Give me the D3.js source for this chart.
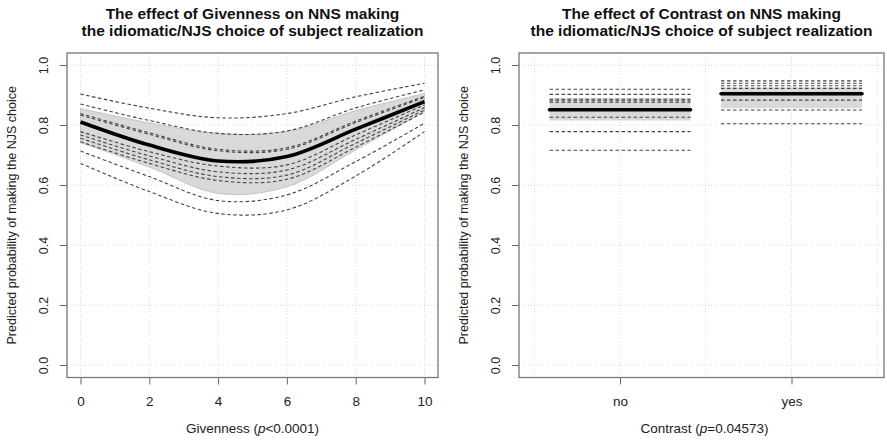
<!DOCTYPE html>
<html><head><meta charset="utf-8">
<script src="https://cdn.jsdelivr.net/npm/d3@7"></script>
<style>
body{margin:0;background:#fff;}
svg{display:block;font-family:"Liberation Sans",Arial,Helvetica,sans-serif;}
</style></head>
<body><svg id="c" width="887" height="440"></svg>
<script>
// ---- data ----
const givX = [0, 2, 4, 6, 8, 10];
const givFit = [0.810, 0.733, 0.680, 0.695, 0.786, 0.878];
const givUpper = [0.855, 0.807, 0.772, 0.778, 0.848, 0.905];
const givLower = [0.742, 0.660, 0.572, 0.594, 0.717, 0.845];
const givRandom = [
  [0.903, 0.856, 0.824, 0.838, 0.894, 0.939],
  [0.870, 0.815, 0.772, 0.780, 0.857, 0.917],
  [0.838, 0.774, 0.719, 0.724, 0.813, 0.896],
  [0.833, 0.769, 0.714, 0.719, 0.808, 0.892],
  [0.778, 0.711, 0.663, 0.667, 0.767, 0.867],
  [0.767, 0.697, 0.644, 0.650, 0.752, 0.858],
  [0.756, 0.684, 0.628, 0.633, 0.739, 0.850],
  [0.744, 0.672, 0.615, 0.619, 0.726, 0.843],
  [0.713, 0.628, 0.548, 0.567, 0.678, 0.806],
  [0.672, 0.578, 0.505, 0.517, 0.630, 0.778]
];
const givTicks = [0, 2, 4, 6, 8, 10];

const conCats = ["no", "yes"];
const conFit = [0.851, 0.904];
const conLower = [0.815, 0.856];
const conUpper = [0.890, 0.925];
const conRandomNo = [0.919, 0.902, 0.886, 0.881, 0.876, 0.826, 0.778, 0.716];
const conRandomYes = [0.947, 0.939, 0.931, 0.922, 0.883, 0.850, 0.804];

const yTicks = [0, 0.2, 0.4, 0.6, 0.8, 1.0];
const titlesLeft = ["The effect of Givenness on NNS making", "the idiomatic/NJS choice of subject realization"];
const titlesRight = ["The effect of Contrast on NNS making", "the idiomatic/NJS choice of subject realization"];
const yTitle = "Predicted probability of making the NJS choice";

// ---- drawing ----
const svg = d3.select("#c");
const FONT_T = 15.5, FONT_X = 13.5, FONT_Y = 12.5;
const boxTop = 53, boxBot = 377.5;
const y = d3.scaleLinear().domain([0, 1]).range([365, 65]);

function frame(x0, x1, xs, xGrid, titles) {
  const g = svg.append("g");
  g.selectAll(".hg").data(yTicks).join("line")
    .attr("x1", x0).attr("x2", x1).attr("y1", d => y(d)).attr("y2", d => y(d))
    .attr("stroke", "#d9d9d9").attr("stroke-width", 1).attr("stroke-dasharray", "1,2");
  g.selectAll(".vg").data(xGrid).join("line")
    .attr("x1", d => xs(d)).attr("x2", d => xs(d)).attr("y1", boxTop).attr("y2", boxBot)
    .attr("stroke", "#d9d9d9").attr("stroke-width", 1).attr("stroke-dasharray", "1,2");
  const ya = d3.axisLeft(y).tickValues(yTicks).tickFormat(d3.format(".1f")).tickSize(7).tickPadding(4);
  const yg = svg.append("g").attr("transform", `translate(${x0},0)`).call(ya);
  yg.select(".domain").remove();
  yg.selectAll(".tick line").attr("stroke", "#666");
  yg.selectAll(".tick text").attr("font-size", FONT_Y).attr("fill", "#222")
    .attr("font-family", "Liberation Sans, Arial, sans-serif")
    .attr("text-anchor", "middle").attr("dy", null)
    .attr("transform", "rotate(-90)").attr("x", 0).attr("y", -19);
  const cx = (x0 + x1) / 2;
  svg.append("text").attr("x", cx).attr("y", 18.5).attr("text-anchor", "middle")
    .attr("font-weight", "bold").attr("font-size", FONT_T).attr("fill", "#111").text(titles[0]);
  svg.append("text").attr("x", cx).attr("y", 35.5).attr("text-anchor", "middle")
    .attr("font-weight", "bold").attr("font-size", FONT_T).attr("fill", "#111").text(titles[1]);
  svg.append("text").attr("transform", `translate(${x0 - 51},${(boxTop + boxBot) / 2}) rotate(-90)`)
    .attr("text-anchor", "middle").attr("font-size", FONT_Y).attr("fill", "#222").text(yTitle);
  return g;
}

function box(x0, x1) {
  svg.append("rect").attr("x", x0).attr("y", boxTop).attr("width", x1 - x0).attr("height", boxBot - boxTop)
    .attr("fill", "none").attr("stroke", "#777").attr("stroke-width", 1.3);
}

// Left panel
const L0 = 67, L1 = 438;
const xg = d3.scaleLinear().domain([0, 10]).range([80.5, 424.5]);
const gl = frame(L0, L1, xg, givTicks, titlesLeft);
const area = d3.area().x((d, i) => xg(givX[i])).y0((d, i) => y(givLower[i])).y1(d => y(d)).curve(d3.curveCatmullRom);
gl.append("path").attr("d", area(givUpper)).attr("fill", "#d9d9d9").attr("stroke", "#bbb").attr("stroke-width", 0.8);
const line = d3.line().x((d, i) => xg(givX[i])).y(d => y(d)).curve(d3.curveCatmullRom);
givRandom.forEach(r => {
  gl.append("path").attr("d", line(r)).attr("fill", "none").attr("stroke", "#444")
    .attr("stroke-width", 1.1).attr("stroke-dasharray", "3.5,2.5");
});
gl.append("path").attr("d", line(givFit)).attr("fill", "none").attr("stroke", "#000").attr("stroke-width", 3.6);
const xa = d3.axisBottom(xg).tickValues(givTicks).tickSize(7).tickPadding(12);
const xgA = svg.append("g").attr("transform", `translate(0,${boxBot})`).call(xa);
xgA.select(".domain").remove();
xgA.selectAll(".tick line").attr("stroke", "#666");
xgA.selectAll(".tick text").attr("font-size", FONT_X).attr("fill", "#222").attr("font-family", "Liberation Sans, Arial, sans-serif");
const xtl = svg.append("text").attr("x", (L0 + L1) / 2).attr("y", 433).attr("text-anchor", "middle")
  .attr("font-size", FONT_X).attr("fill", "#222");
xtl.append("tspan").text("Givenness (");
xtl.append("tspan").attr("font-style", "italic").text("p");
xtl.append("tspan").text("<0.0001)");
box(L0, L1);

// Right panel
const R0 = 519, R1 = 884;
const xc = d3.scaleLinear().domain([1, 2]).range([620, 791.5]);
const gr = frame(R0, R1, xc, [0.5, 1, 1.5, 2, 2.5], titlesRight);
const half = 0.411;
conCats.forEach((c, i) => {
  const a = xc(i + 1 - half), b = xc(i + 1 + half);
  gr.append("rect").attr("x", a).attr("width", b - a)
    .attr("y", y(conUpper[i])).attr("height", y(conLower[i]) - y(conUpper[i]))
    .attr("fill", "#d9d9d9");
  const rnd = i === 0 ? conRandomNo : conRandomYes;
  rnd.forEach(v => {
    gr.append("line").attr("x1", a).attr("x2", b).attr("y1", y(v)).attr("y2", y(v))
      .attr("stroke", "#444").attr("stroke-width", 1.1).attr("stroke-dasharray", "3.5,2.5");
  });
  gr.append("line").attr("x1", a).attr("x2", b).attr("y1", y(conFit[i])).attr("y2", y(conFit[i]))
    .attr("stroke", "#000").attr("stroke-width", 3.6).attr("stroke-linecap", "round");
});
const xca = d3.axisBottom(xc).tickValues([1, 2]).tickFormat((d) => conCats[d - 1]).tickSize(7).tickPadding(12);
const xcg = svg.append("g").attr("transform", `translate(0,${boxBot})`).call(xca);
xcg.select(".domain").remove();
xcg.selectAll(".tick line").attr("stroke", "#666");
xcg.selectAll(".tick text").attr("font-size", FONT_X).attr("fill", "#222").attr("font-family", "Liberation Sans, Arial, sans-serif");
const xtr = svg.append("text").attr("x", (R0 + R1) / 2 + 3).attr("y", 433).attr("text-anchor", "middle")
  .attr("font-size", FONT_X).attr("fill", "#222");
xtr.append("tspan").text("Contrast (");
xtr.append("tspan").attr("font-style", "italic").text("p");
xtr.append("tspan").text("=0.04573)");
box(R0, R1);
</script></body></html>
